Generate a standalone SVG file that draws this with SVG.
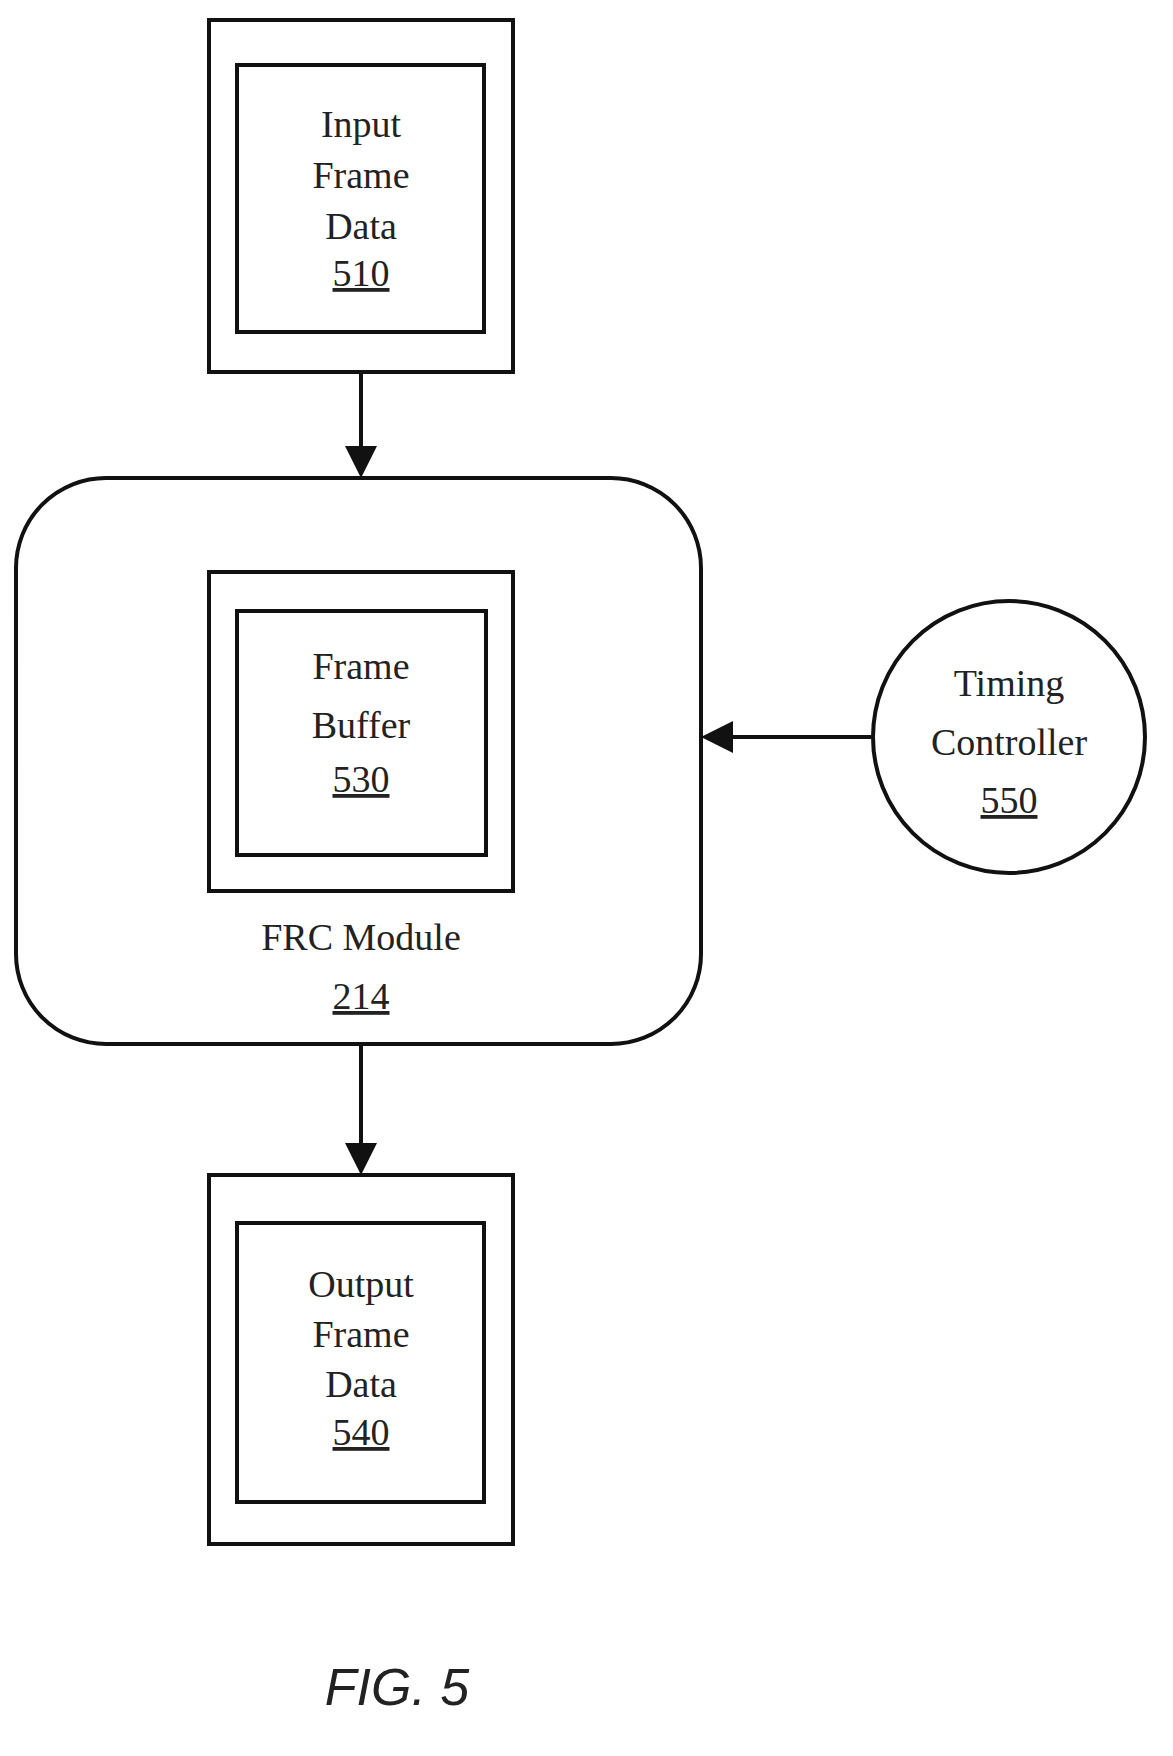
<svg xmlns="http://www.w3.org/2000/svg" width="1173" height="1756" viewBox="0 0 1173 1756">
<style>
.b{fill:none;stroke:#111;stroke-width:4}
.t{font-family:"Liberation Serif",serif;font-size:38px;fill:#222;text-anchor:middle}
.c{stroke:#111;stroke-width:4;fill:none}
</style>
<defs><marker id="a" markerWidth="8" markerHeight="8" refX="7" refY="4" orient="auto" markerUnits="strokeWidth"><path d="M0,0L8,4L0,8z" fill="#111"/></marker></defs>
<rect width="1173" height="1756" fill="#fff"/>
<g id="input"><rect class="b" x="209" y="20" width="304" height="352"/><rect class="b" x="237" y="65" width="247" height="267"/>
<text class="t" x="361" y="137">Input</text><text class="t" x="361" y="188">Frame</text><text class="t" x="361" y="239">Data</text><text class="t" x="361" y="286" text-decoration="underline">510</text></g>
<g id="frc"><rect class="b" x="16" y="478" width="685" height="566" rx="90"/>
<text class="t" x="361" y="950">FRC Module</text><text class="t" x="361" y="1009" text-decoration="underline">214</text></g>
<g id="buffer"><rect class="b" x="209" y="572" width="304" height="319"/><rect class="b" x="237" y="611" width="249" height="244"/>
<text class="t" x="361" y="679">Frame</text><text class="t" x="361" y="738">Buffer</text><text class="t" x="361" y="792" text-decoration="underline">530</text></g>
<g id="timing"><circle class="b" cx="1009" cy="737" r="136"/>
<text class="t" x="1009" y="696">Timing</text><text class="t" x="1009" y="755">Controller</text><text class="t" x="1009" y="813" text-decoration="underline">550</text></g>
<g id="output"><rect class="b" x="209" y="1175" width="304" height="369"/><rect class="b" x="237" y="1223" width="247" height="279"/>
<text class="t" x="361" y="1297">Output</text><text class="t" x="361" y="1347">Frame</text><text class="t" x="361" y="1397">Data</text><text class="t" x="361" y="1445" text-decoration="underline">540</text></g>
<g id="connectors">
<line class="c" x1="361" y1="372" x2="361" y2="474" marker-end="url(#a)"/>
<line class="c" x1="871" y1="737" x2="705" y2="737" marker-end="url(#a)"/>
<line class="c" x1="361" y1="1044" x2="361" y2="1171" marker-end="url(#a)"/>
</g>
<text x="397" y="1705" font-family="Liberation Sans,sans-serif" font-style="italic" font-size="52" fill="#222" text-anchor="middle">FIG. 5</text>
</svg>
